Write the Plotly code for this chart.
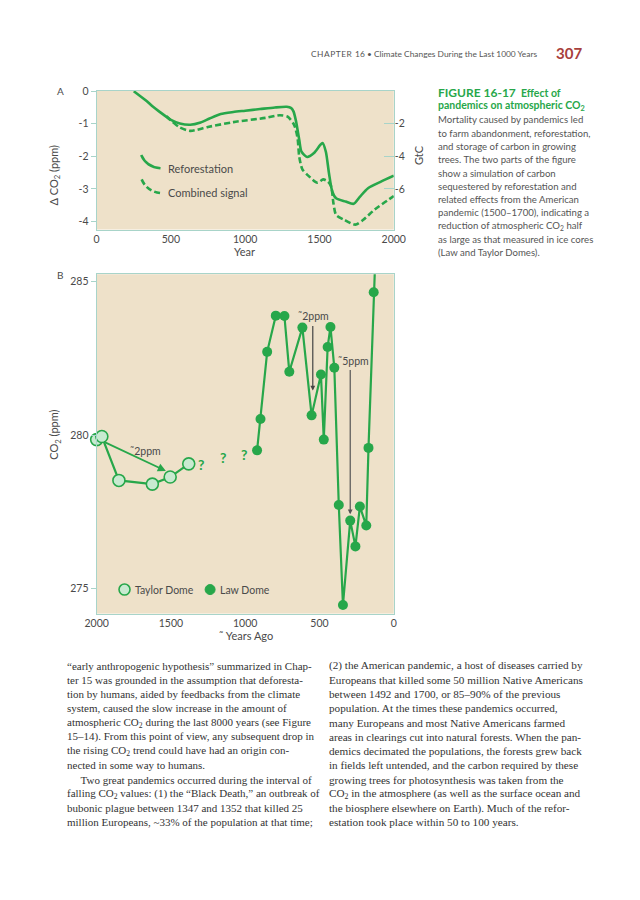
import plotly.graph_objects as go

# ---------------- data ----------------
# Panel A: simulated change in CO2 (ppm) vs year
refor_year = [250, 330, 380, 420, 500, 560, 630, 700, 760, 835, 920, 1000, 1100, 1200, 1280, 1310,
              1325, 1342, 1364, 1379, 1417, 1461, 1504, 1521, 1543, 1564, 1586, 1612, 1676, 1730,
              1773, 1827, 1914, 2000]
refor_ppm = [0.0, -0.28, -0.48, -0.62, -0.88, -0.99, -1.03, -0.96, -0.84, -0.70, -0.64, -0.60, -0.55,
             -0.50, -0.48, -0.52, -0.62, -0.92, -1.50, -1.86, -2.02, -1.91, -1.66, -1.59, -1.86,
             -2.52, -3.08, -3.29, -3.39, -3.46, -3.24, -2.98, -2.78, -2.60]

comb_year = [470, 500, 555, 630, 749, 921, 1137, 1234, 1288, 1331, 1353, 1364, 1385, 1428, 1486,
             1525, 1558, 1579, 1594, 1612, 1666, 1741, 1795, 1871, 2000]
comb_ppm = [-0.77, -0.90, -1.10, -1.22, -1.10, -0.95, -0.82, -0.74, -0.79, -1.05, -1.46, -2.02,
            -2.40, -2.61, -2.81, -2.71, -2.78, -2.93, -3.44, -3.80, -3.95, -4.10, -3.95, -3.64, -3.22]

a_yticks = [0, -1, -2, -3, -4]
a_yticktext = ["0", "-1", "-2", "-3", "-4"]
a_gtc_ticks = [-2, -4, -6]
a_gtc_text = ["-2", "-4", "-6"]
a_xticks = [0, 500, 1000, 1500, 2000]

# Panel B: ice-core CO2 (ppm) vs years ago
taylor_age = [2000, 1965, 1850, 1625, 1505, 1380]
taylor_co2 = [279.85, 279.95, 278.52, 278.40, 278.63, 279.06]

law_age = [920, 897, 852, 794, 736, 703, 615, 553, 490, 471, 445, 426, 400, 370, 342, 293, 258,
           228, 185, 170, 135, 115]
law_co2 = [279.50, 280.52, 282.71, 283.89, 283.88, 282.06, 283.50, 280.64, 281.97, 279.85, 282.87,
           283.52, 282.19, 277.72, 274.46, 277.21, 276.37, 277.67, 277.05, 279.58, 284.65, 287.0]

q_age = [1297, 1151, 1005]
q_co2 = [279.04, 279.26, 279.37]

b_yticks = [275, 280, 285]
b_xticks = [2000, 1500, 1000, 500, 0]

caption_lines = [
    "Mortality caused by pandemics led",
    "to farm abandonment, reforestation,",
    "and storage of carbon in growing",
    "trees. The two parts of the figure",
    "show a simulation of carbon",
    "sequestered by reforestation and",
    "related effects from the American",
    "pandemic (1500–1700), indicating a",
    "reduction of atmospheric CO<sub>2</sub> half",
    "as large as that measured in ice cores",
    "(Law and Taylor Domes).",
]

left_lines = [
    "“early anthropogenic hypothesis” summarized in Chap-",
    "ter 15 was grounded in the assumption that deforesta-",
    "tion by humans, aided by feedbacks from the climate",
    "system, caused the slow increase in the amount of",
    "atmospheric CO<sub>2</sub> during the last 8000 years (see Figure",
    "15–14). From this point of view, any subsequent drop in",
    "the rising CO<sub>2</sub> trend could have had an origin con-",
    "nected in some way to humans.",
    "     Two great pandemics occurred during the interval of",
    "falling CO<sub>2</sub> values: (1) the “Black Death,” an outbreak of",
    "bubonic plague between 1347 and 1352 that killed 25",
    "million Europeans, ~33% of the population at that time;",
]
right_lines = [
    "(2) the American pandemic, a host of diseases carried by",
    "Europeans that killed some 50 million Native Americans",
    "between 1492 and 1700, or 85–90% of the previous",
    "population. At the times these pandemics occurred,",
    "many Europeans and most Native Americans farmed",
    "areas in clearings cut into natural forests. When the pan-",
    "demics decimated the populations, the forests grew back",
    "in fields left untended, and the carbon required by these",
    "growing trees for photosynthesis was taken from the",
    "CO<sub>2</sub> in the atmosphere (as well as the surface ocean and",
    "the biosphere elsewhere on Earth). Much of the refor-",
    "estation took place within 50 to 100 years.",
]

# ---------------- style ----------------
# the page body has an 8px margin, so the figure is drawn 8px in from the window edges
OFF = 8
W, H = 624, 884
GREEN = "#27a74a"
LIGHTG = "#c8ead0"
BEIGE = "#eee1c9"
BORDER = "#a8d4c9"
LABEL = "#4a4a4a"
SANS = "Lato, 'Open Sans', sans-serif"
SERIF = "'Liberation Serif', 'DejaVu Serif', serif"


def px(x):
    return (x - OFF) / W


def py(y):
    return 1 - (y - OFF) / H


fig = go.Figure()

# Panel A traces
fig.add_trace(go.Scatter(x=refor_year, y=refor_ppm, mode="lines", xaxis="x", yaxis="y",
                         line=dict(color=GREEN, width=2.6, shape="spline", smoothing=0.7),
                         hoverinfo="skip", showlegend=False))
fig.add_trace(go.Scatter(x=comb_year, y=comb_ppm, mode="lines", xaxis="x", yaxis="y",
                         line=dict(color=GREEN, width=2.6, dash="6px,3px", shape="spline", smoothing=0.7),
                         hoverinfo="skip", showlegend=False))
fig.add_trace(go.Scatter(x=[None], y=[None], mode="lines", xaxis="x", yaxis="y2",
                         hoverinfo="skip", showlegend=False))

# Panel B traces
fig.add_trace(go.Scatter(x=taylor_age, y=taylor_co2, mode="lines+markers", xaxis="x3", yaxis="y3",
                         line=dict(color=GREEN, width=2.2), cliponaxis=False,
                         marker=dict(size=12, color=LIGHTG, line=dict(color=GREEN, width=1.6)),
                         hoverinfo="skip", showlegend=False))
fig.add_trace(go.Scatter(x=law_age, y=law_co2, mode="lines+markers", xaxis="x3", yaxis="y3",
                         line=dict(color=GREEN, width=2.2),
                         marker=dict(size=10, color=GREEN),
                         hoverinfo="skip", showlegend=False))

tickfont = dict(family=SANS, size=10.5, color=LABEL)
xdom = [px(87.7), px(396.7)]

fig.update_layout(
    width=W, height=H,
    margin=dict(l=0, r=0, t=0, b=0),
    paper_bgcolor="white", plot_bgcolor=BEIGE,
    showlegend=False,
    xaxis=dict(domain=xdom, anchor="y", range=[0, 2000], tickvals=a_xticks, ticks="",
               showgrid=False, zeroline=False, showline=True, mirror=True, linecolor=BORDER,
               linewidth=1, tickfont=tickfont),
    yaxis=dict(domain=[py(225), py(85.2)], anchor="x", range=[-4.25, 0.015],
               tickvals=a_yticks, ticktext=a_yticktext, ticks="outside", ticklen=5,
               tickcolor=BORDER, showgrid=False, zeroline=False, showline=True, mirror=True,
               linecolor=BORDER, linewidth=1, tickfont=tickfont),
    yaxis2=dict(overlaying="y", side="right", anchor="x", range=[-8.5, 0.03],
                tickvals=a_gtc_ticks, ticktext=a_gtc_text, ticks="inside", ticklen=10,
                tickcolor=BORDER, showgrid=False, zeroline=False, showline=False,
                tickfont=tickfont),
    xaxis3=dict(domain=xdom, anchor="y3", range=[2000, 0], tickvals=b_xticks, ticks="",
                showgrid=False, zeroline=False, showline=True, mirror=True, linecolor=BORDER,
                linewidth=1, tickfont=tickfont),
    yaxis3=dict(domain=[py(611.7), py(270)], anchor="x3", range=[274.18, 285.24],
                tickvals=b_yticks, ticks="outside", ticklen=5, tickcolor=BORDER,
                showgrid=False, zeroline=False, showline=True, mirror=True, linecolor=BORDER,
                linewidth=1, tickfont=tickfont),
)

ann = []


def page_text(x, y, text, size=10, color=LABEL, family=SANS, xanchor="left", angle=0, bold=False):
    if bold:
        text = "<b>" + text + "</b>"
    ann.append(dict(x=px(x), y=py(y), xref="paper", yref="paper", text=text, showarrow=False,
                    xanchor=xanchor, yanchor="middle", textangle=angle,
                    font=dict(family=family, size=size, color=color)))


# header
page_text(548, 48, "C\u200aH\u200aA\u200aP\u200aT\u200aE\u200aR\u2009 16 \u2022 Climate Changes During the Last 1000 Years",
          size=8.4, color="#555555", xanchor="right")
page_text(595, 47, "307", size=15, color="#a8403c", xanchor="right", bold=True)

# panel letters
page_text(44, 86, "A", size=10)
page_text(44, 271, "B", size=10)

# axis titles
page_text(44, 170, "\u0394 CO<sub>2</sub> (ppm)", size=11, xanchor="center", angle=-90)
page_text(422, 150, "GtC", size=11, xanchor="center", angle=-90)
page_text(241, 247, "Year", size=11, xanchor="center")
page_text(44, 432, "CO<sub>2</sub> (ppm)", size=11, xanchor="center", angle=-90)
page_text(243, 634, "\u02dc Years Ago", size=11, xanchor="center")

# panel A legend
page_text(160, 163.5, "Reforestation", size=11)
page_text(160, 188, "Combined signal", size=11)

# panel B legend
page_text(126, 587.5, "Taylor Dome", size=10.5)
page_text(214, 587.5, "Law Dome", size=10.5)

# caption
page_text(441, 87, "<b><span style='font-size:12px'>FIGURE 16-17</span>  Effect of</b>",
          size=10.5, color=GREEN)
page_text(441, 101, "pandemics on atmospheric CO<sub>2</sub>", size=10.5, color=GREEN, bold=True)
for i, line in enumerate(caption_lines):
    page_text(441, 114.5 + 13.4 * i, line, size=9.6, color="#555555")

# body text
for i, line in enumerate(left_lines):
    page_text(55, 664 + 14.35 * i, line, size=11, color="#333333", family=SERIF)
for i, line in enumerate(right_lines):
    page_text(327, 664 + 14.35 * i, line, size=11.2, color="#333333", family=SERIF)

# panel B annotations: question marks
for a, c in zip(q_age, q_co2):
    ann.append(dict(x=a, y=c, xref="x3", yref="y3", text="<b>?</b>", showarrow=False,
                    font=dict(family=SANS, size=14, color=GREEN)))

# ppm labels and arrows
ann.append(dict(x=541, y=283.87, xref="x3", yref="y3", text="\u02dc2ppm", showarrow=False,
                font=dict(family=SANS, size=10.5, color=LABEL)))
ann.append(dict(x=269, y=282.42, xref="x3", yref="y3", text="\u02dc5ppm", showarrow=False,
                font=dict(family=SANS, size=10.5, color=LABEL)))
ann.append(dict(x=1669, y=279.49, xref="x3", yref="y3", text="\u02dc2ppm", showarrow=False,
                font=dict(family=SANS, size=10.5, color=LABEL)))
ann.append(dict(x=545, y=281.45, ax=545, ay=283.6, xref="x3", yref="y3", axref="x3", ayref="y3",
                text="", showarrow=True, arrowhead=2, arrowsize=0.8, arrowwidth=1.2,
                arrowcolor="#444444"))
ann.append(dict(x=293, y=277.42, ax=293, ay=282.17, xref="x3", yref="y3", axref="x3", ayref="y3",
                text="", showarrow=True, arrowhead=2, arrowsize=0.8, arrowwidth=1.2,
                arrowcolor="#555555"))
ann.append(dict(x=1534, y=278.83, ax=1960, ay=279.8, xref="x3", yref="y3", axref="x3", ayref="y3",
                text="", showarrow=True, arrowhead=2, arrowsize=0.9, arrowwidth=1.8,
                arrowcolor=GREEN))

fig.update_layout(annotations=ann)

# legend keys (decorative shapes)
shapes = [
    dict(type="path", xref="x", yref="y", path="M 300,-1.96 Q 335,-2.33 430,-2.37",
         line=dict(color=GREEN, width=2.6)),
    dict(type="path", xref="x", yref="y", path="M 303,-2.71 Q 338,-3.08 430,-3.13",
         line=dict(color=GREEN, width=2.6, dash="6px,3px")),
    dict(type="circle", xref="paper", yref="paper", xsizemode="pixel", ysizemode="pixel",
         xanchor=px(116.7), yanchor=py(587.5), x0=-5.5, x1=5.5, y0=-5.5, y1=5.5,
         fillcolor=LIGHTG, line=dict(color=GREEN, width=1.6)),
    dict(type="circle", xref="paper", yref="paper", xsizemode="pixel", ysizemode="pixel",
         xanchor=px(205.7), yanchor=py(587.5), x0=-5, x1=5, y0=-5, y1=5,
         fillcolor=GREEN, line=dict(color=GREEN, width=1)),
]
fig.update_layout(shapes=shapes)

fig.write_html("out.html")
